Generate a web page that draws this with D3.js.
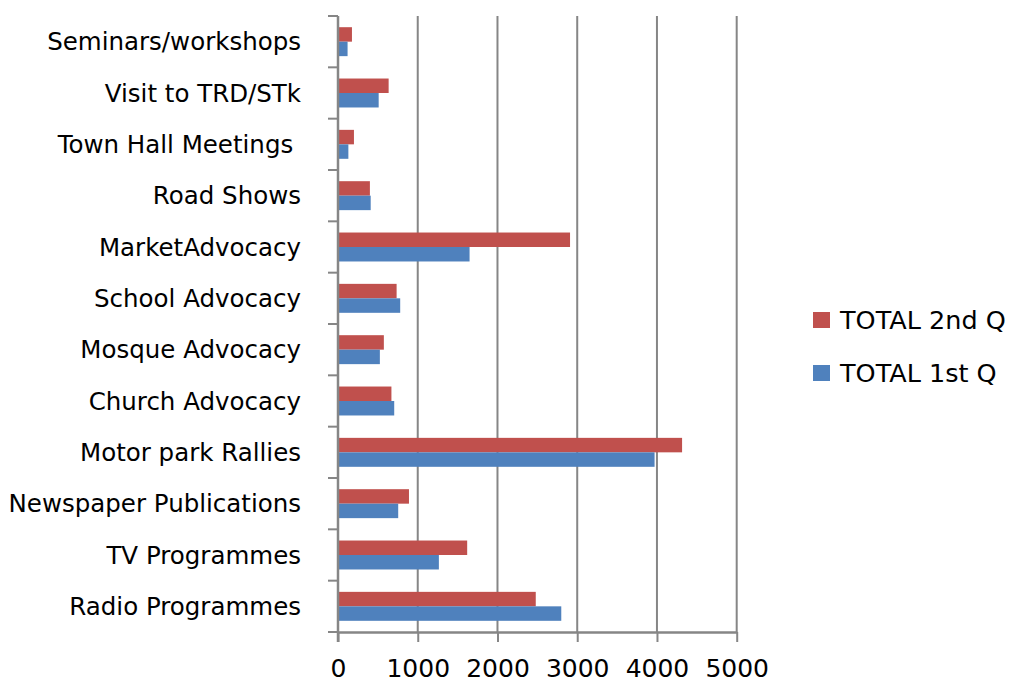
<!DOCTYPE html>
<html>
<head>
<meta charset="utf-8">
<script src="https://cdn.jsdelivr.net/npm/d3@7"></script>
<style>
  body { margin: 0; background: #fff; }
  svg text { font-family: "Comic Sans MS", "DejaVu Sans", sans-serif; fill: #000; }
</style>
</head>
<body>
<svg id="chart"></svg>
<script>
// categories top -> bottom
const categories = [
    "Seminars/workshops", "Visit to TRD/STk", "Town Hall Meetings ", "Road Shows",
    "MarketAdvocacy", "School Advocacy", "Mosque Advocacy", "Church Advocacy",
    "Motor park Rallies", "Newspaper Publications", "TV Programmes", "Radio Programmes"
];
const total2nd = [175, 635, 200, 400, 2910, 735, 575, 670, 4315, 890, 1620, 2480];
const total1st = [120, 510, 130, 410, 1650, 780, 525, 705, 3970, 755, 1265, 2800];
const xTicks = [0, 1000, 2000, 3000, 4000, 5000];
const seriesNames = ["TOTAL 2nd Q", "TOTAL 1st Q"];
const seriesColors = ["#C0504D", "#4F81BD"];

const W = 1017, H = 684;
const plotL = 338, plotR = 736.7, plotT = 16, plotB = 632;
const AXIS_COLOR = "#868686";

const svg = d3.select("#chart").attr("width", W).attr("height", H);

const x = d3.scaleLinear().domain([0, 5000]).range([plotL, plotR]);
const y = d3.scaleBand().domain(categories).range([plotT, plotB]).paddingInner(0.436).paddingOuter(0.218);
const inner = d3.scaleBand().domain([0, 1]).range([0, y.bandwidth()]);

// 网格线
svg.append("g")
    .selectAll("line")
    .data(xTicks.slice(1))
    .join("line")
    .attr("x1", d => x(d)).attr("x2", d => x(d))
    .attr("y1", plotT).attr("y2", plotB)
    .attr("stroke", AXIS_COLOR)
    .attr("stroke-width", 2);

// bars
const rows = categories.map((c, i) => ({ c, vals: [total2nd[i], total1st[i]] }));
svg.append("g")
    .selectAll("g")
    .data(rows)
    .join("g")
    .attr("transform", d => `translate(0,${y(d.c)})`)
    .selectAll("rect")
    .data(d => d.vals)
    .join("rect")
    .attr("x", x(0))
    .attr("y", (d, i) => inner(i))
    .attr("width", d => x(d) - x(0))
    .attr("height", inner.bandwidth())
    .attr("fill", (d, i) => seriesColors[i]);

// x axis
const xAxis = svg.append("g")
    .attr("transform", `translate(0,${plotB})`)
    .call(d3.axisBottom(x).tickValues(xTicks).tickFormat(d3.format("d")).tickSize(10).tickSizeOuter(0));
xAxis.select(".domain").attr("stroke", AXIS_COLOR).attr("stroke-width", 2.5);
xAxis.selectAll(".tick line").attr("stroke", AXIS_COLOR).attr("stroke-width", 2);
xAxis.selectAll(".tick text")
    .attr("y", 45).attr("dy", 0)
    .attr("font-size", 25).attr("fill", "#000")
    .style("font-family", '"Comic Sans MS", "DejaVu Sans", sans-serif');

// y axis line + ticks at band edges
const yG = svg.append("g");
yG.append("line")
    .attr("x1", plotL).attr("x2", plotL)
    .attr("y1", plotT).attr("y2", plotB + 10)
    .attr("stroke", AXIS_COLOR).attr("stroke-width", 2.5);
const step = y.step();
yG.selectAll(".ytick")
    .data(d3.range(categories.length + 1))
    .join("line")
    .attr("class", "ytick")
    .attr("x1", plotL - 10).attr("x2", plotL)
    .attr("y1", i => plotT + i * step).attr("y2", i => plotT + i * step)
    .attr("stroke", AXIS_COLOR).attr("stroke-width", 2);

yG.selectAll(".ylabel")
    .data(categories)
    .join("text")
    .attr("class", "ylabel")
    .attr("x", 301)
    .attr("y", d => y(d) + y.bandwidth() / 2)
    .attr("dy", "0.35em")
    .attr("text-anchor", "end")
    .attr("font-size", 24.5)
    .style("white-space", "pre")
    .text(d => d);

// legend
const legend = svg.append("g");
seriesNames.forEach((name, i) => {
    const ly = 320 + i * 53;
    legend.append("rect")
        .attr("x", 813).attr("y", ly - 8)
        .attr("width", 17).attr("height", 16)
        .attr("fill", seriesColors[i]);
    legend.append("text")
        .attr("x", 840).attr("y", ly)
        .attr("dy", "0.35em")
        .attr("font-size", 25.5)
        .text(name);
});
</script>
</body>
</html>
